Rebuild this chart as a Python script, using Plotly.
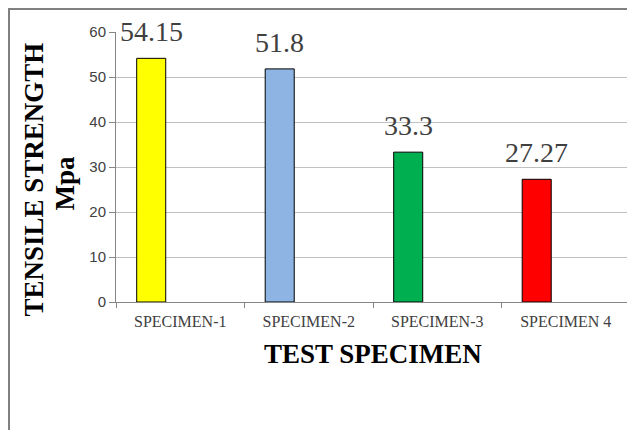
import plotly.graph_objects as go

categories = ["SPECIMEN-1", "SPECIMEN-2", "SPECIMEN-3", "SPECIMEN 4"]
strength = [54.15, 51.8, 33.3, 27.27]
labels = ["54.15", "51.8", "33.3", "27.27"]
colors = ["#FFFF00", "#8DB4E2", "#00B050", "#FF0000"]
y_ticks = [0, 10, 20, 30, 40, 50, 60]

# page body has an 8px default margin; compensate so the window matches
OFF = 8
W, H = 635 - OFF, 430 - OFF
PL, PR, PT, PB = 116, 630, 32, 302   # plot-area edges in window pixels
L, T = PL - OFF, PT - OFF
R = W - (PR - OFF)
B = H - (PB - OFF)
pw, ph = PR - PL, PB - PT

def px_x(x):
    return (x - PL) / pw

def px_y(y):
    return (PB - y) / ph

bar_w = 0.226
bar_off = -0.339

fig = go.Figure()
fig.add_trace(go.Bar(
    x=categories, y=strength,
    width=[bar_w] * len(categories),
    offset=[bar_off] * len(categories),
    marker=dict(color=colors, line=dict(color="#000000", width=1)),
    hoverinfo="skip",
))

for c, v, t in zip(categories, strength, labels):
    fig.add_annotation(
        x=c, y=v, xref="x", yref="y", text=t, showarrow=False,
        xanchor="center", yanchor="bottom",
        xshift=(bar_off + bar_w / 2) * pw / len(categories), yshift=9,
        font=dict(family="Liberation Serif", size=28, color="#404040"),
    )

fig.add_annotation(
    x=px_x(33.5), y=px_y(180), xref="paper", yref="paper",
    text="<b>TENSILE STRENGTH</b>", showarrow=False, textangle=-90,
    xanchor="center", yanchor="middle",
    font=dict(family="Liberation Serif", size=27, color="#000000"),
)
fig.add_annotation(
    x=px_x(64.5), y=px_y(183), xref="paper", yref="paper",
    text="<b>Mpa</b>", showarrow=False, textangle=-90,
    xanchor="center", yanchor="middle",
    font=dict(family="Liberation Serif", size=27, color="#000000"),
)
fig.add_annotation(
    x=0.5, y=px_y(354), xref="paper", yref="paper",
    text="<b>TEST SPECIMEN</b>", showarrow=False,
    xanchor="center", yanchor="middle",
    font=dict(family="Liberation Serif", size=27, color="#000000"),
)

fig.add_shape(
    type="rect", xref="paper", yref="paper",
    x0=px_x(9), x1=px_x(660), y0=px_y(460), y1=px_y(9),
    line=dict(color="#808080", width=2), fillcolor="rgba(0,0,0,0)",
)

fig.update_layout(
    width=W, height=H,
    margin=dict(l=L, r=R, t=T, b=B, autoexpand=False),
    paper_bgcolor="#FFFFFF", plot_bgcolor="#FFFFFF",
    showlegend=False,
    xaxis=dict(
        type="category", showgrid=False,
        showline=True, linecolor="#868686", linewidth=1,
        ticks="outside", tickson="boundaries", ticklen=5, tickcolor="#868686",
        tickfont=dict(family="Liberation Serif", size=16, color="#404040"),
        ticklabelstandoff=5,
        range=[-0.5, 3.5], automargin=False,
    ),
    yaxis=dict(
        range=[0, 60], tickvals=y_ticks,
        showgrid=True, gridcolor="#C0C0C0", gridwidth=1,
        showline=True, linecolor="#868686", linewidth=1,
        ticks="outside", ticklen=6, tickcolor="#868686",
        tickfont=dict(family="Liberation Sans", size=15, color="#404040"),
        zeroline=False, automargin=False,
    ),
)

fig.write_html("out.html")
